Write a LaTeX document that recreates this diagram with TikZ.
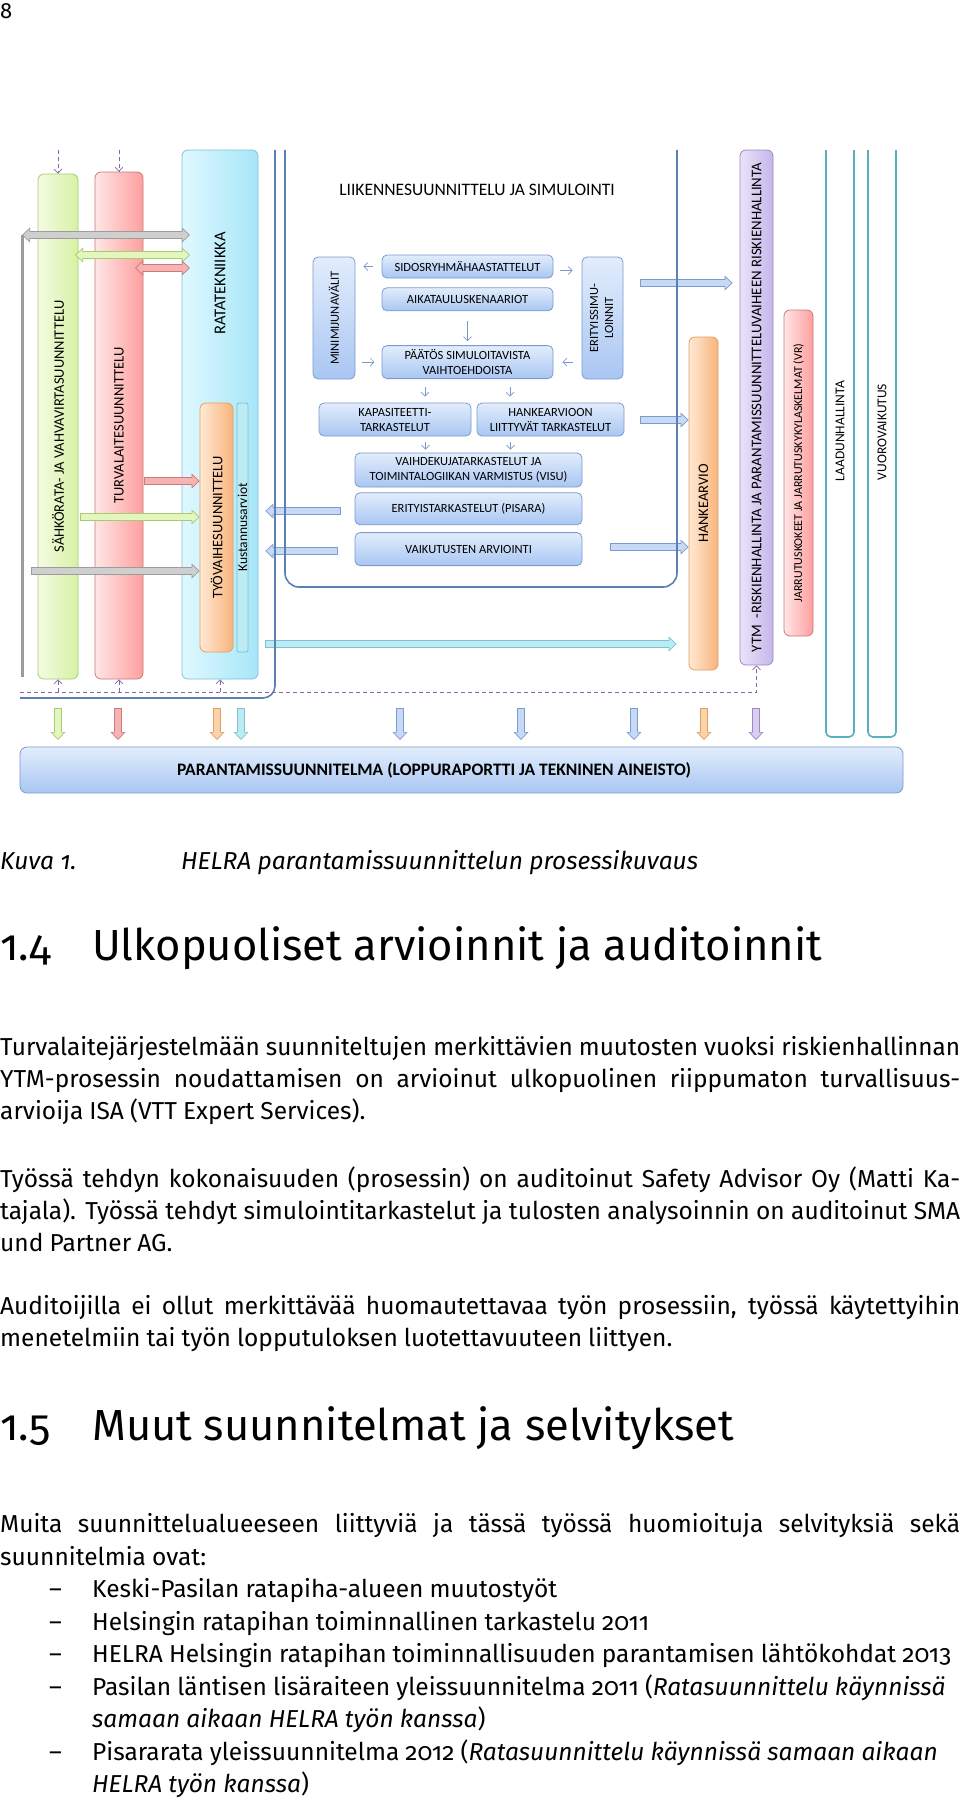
\documentclass[tikz,border=0pt]{standalone}
\usepackage{fontspec}
\usepackage{graphicx}
\setmainfont{Fira Sans}[Numbers=OldStyle]
\newfontfamily\diafont{Carlito}
\usetikzlibrary{arrows.meta,positioning}

\definecolor{boxtop}{HTML}{E2EDFC}
\definecolor{boxbot}{HTML}{A9C6F2}
\definecolor{boxline}{HTML}{7D9AD0}
\definecolor{bluA}{HTML}{C6DAF6}
\definecolor{frameblue}{HTML}{5B80B2}
\definecolor{grnL}{HTML}{F4FBE2}
\definecolor{grnR}{HTML}{D6F2A4}
\definecolor{grnD}{HTML}{A8CC6C}
\definecolor{grnA}{HTML}{E4F6C0}
\definecolor{redL}{HTML}{FFE6E6}
\definecolor{redR}{HTML}{FF9E9E}
\definecolor{redD}{HTML}{C97A7A}
\definecolor{redA}{HTML}{F7B2B2}
\definecolor{cyaL}{HTML}{E0F8FF}
\definecolor{cyaR}{HTML}{A6E6F8}
\definecolor{cyaD}{HTML}{7CC2D4}
\definecolor{cyaA}{HTML}{BDEBF4}
\definecolor{orgL}{HTML}{FFE9D4}
\definecolor{orgR}{HTML}{F8B47C}
\definecolor{orgD}{HTML}{E0A060}
\definecolor{orgA}{HTML}{FCD2AC}
\definecolor{purL}{HTML}{E9E3F8}
\definecolor{purR}{HTML}{C6B6EA}
\definecolor{purD}{HTML}{9A88C4}
\definecolor{purA}{HTML}{D8CEF2}
\definecolor{grayD}{HTML}{9C9C9C}
\definecolor{grayF}{HTML}{CFCFCF}
\definecolor{tealline}{HTML}{5AAFBE}
\definecolor{dashpur}{HTML}{8A64A8}

\newcommand\bodyfont{\fontsize{24.5}{32}\selectfont\spaceskip=.25em plus .6em minus .1em\relax}
\newcommand\headfont{\fontsize{43.5}{48}\selectfont}
\newcommand\barfont{\diafont\fontsize{14.5}{16}\selectfont}
\newsavebox\linebox
\newcommand\jl[1]{\sbox\linebox{#1}\ifdim\wd\linebox>960pt\resizebox{960pt}{\height}{\usebox\linebox}\else\makebox[960pt][s]{#1}\fi}

\tikzset{
  bar/.style={rounded corners=6pt, line width=0.8pt, inner sep=0pt, font=\barfont},
  ibox/.style={draw=boxline, line width=0.8pt, rounded corners=5pt, top color=boxtop, bottom color=boxbot,
    inner sep=0pt, align=center, font=\diafont\fontsize{12.5}{15}\selectfont},
  frame/.style={draw=frameblue, line width=1.6pt},
  sarrow/.style={draw=boxline, line width=0.7pt, -{Straight Barb[length=4pt,width=8pt]}},
  dashline/.style={draw=dashpur, line width=0.7pt, dash pattern=on 4pt off 3pt, -{Straight Barb[length=4pt,width=8pt]}},
  fat/.style 2 args={draw=#2, line width=8pt, -{Triangle[length=8pt,width=15pt,fill=#1,line width=0.7pt]},
    postaction={draw=#1, line width=6.6pt, -, shorten >=7pt, shorten <=0.7pt}},
  fatboth/.style 2 args={draw=#2, line width=8pt,
    {Triangle[length=8pt,width=15pt,fill=#1,line width=0.7pt]}-{Triangle[length=8pt,width=15pt,fill=#1,line width=0.7pt]},
    postaction={draw=#1, line width=6.6pt, -, shorten >=7pt, shorten <=7pt}},
  line/.style={inner sep=0pt, anchor=base west},
}

\begin{document}
\begin{tikzpicture}[x=1pt,y=-1pt]
\path[use as bounding box, fill=white] (0,0) rectangle (960,1800);

% page number
\node[line, font=\fontsize{22}{24}\selectfont] (pg) at (0,18) {8};

% bars on the left
\node[bar, draw=grnD, left color=grnL, right color=grnR, minimum width=40pt, minimum height=505pt] (sahko) at (58,426.5) {\rotatebox{90}{SÄHKÖRATA- JA VAHVAVIRTASUUNNITTELU}};
\node[bar, draw=redD, left color=redL, right color=redR, minimum width=48pt, minimum height=507pt] (turva) at (119,425.5) {\rotatebox{90}{TURVALAITESUUNNITTELU}};
\node[bar, draw=cyaD, left color=cyaL, right color=cyaR, minimum width=76pt, minimum height=529pt] (rata) at (220,414.5) {};
\node[font=\diafont\fontsize{16.5}{18}\selectfont] (ratat) at (220,283.5) {\rotatebox{90}{RATATEKNIIKKA}};
\node[bar, draw=orgD, left color=orgL, right color=orgR, minimum width=33pt, minimum height=249pt] (tyo) at (216.5,527.5) {\rotatebox{90}{TYÖVAIHESUUNNITTELU}};
\node[bar, draw=cyaD, fill=cyaA, rounded corners=2pt, minimum width=11pt, minimum height=249pt] (kust) at (242.5,527.5) {};
\node[font=\diafont\fontsize{13.5}{15}\selectfont] (kustt) at (kust) {\rotatebox{90}{Kustannusarviot}};

% bars on the right
\node[bar, draw=orgD, left color=orgL, right color=orgR, minimum width=29pt, minimum height=333pt] (hanke) at (703.5,503.5) {\rotatebox{90}{HANKEARVIO}};
\node[bar, draw=purD, left color=purL, right color=purR, minimum width=33pt, minimum height=515pt, font=\diafont\fontsize{14.8}{16}\selectfont] (ytm) at (756.5,407.5) {\rotatebox{90}{YTM\ \ -RISKIENHALLINTA JA PARANTAMISSUUNNITTELUVAIHEEN RISKIENHALLINTA}};
\node[bar, draw=redD, left color=redL, right color=redR, minimum width=29pt, minimum height=326pt, font=\diafont\fontsize{12}{14}\selectfont] (jarru) at (798.5,473) {\rotatebox{90}{JARRUTUSKOKEET JA JARRUTUSKYKYLASKELMAT (VR)}};
\draw[draw=tealline, line width=1.6pt, rounded corners=5pt] (826,150) |- (854,737) -- (854,150);
\draw[draw=tealline, line width=1.6pt, rounded corners=5pt] (868,150) |- (896,737) -- (896,150);
\node[font=\diafont\fontsize{13.5}{15}\selectfont] (laatut) at (840,431) {\rotatebox{90}{LAADUNHALLINTA}};
\node[font=\diafont\fontsize{13.5}{15}\selectfont] (vuorot) at (882,432) {\rotatebox{90}{VUOROVAIKUTUS}};

% traffic planning and simulation
\node[font=\diafont\fontsize{17.5}{19}\selectfont] (liike) at (477,190) {LIIKENNESUUNNITTELU JA SIMULOINTI};
\node[ibox, minimum width=171pt, minimum height=23pt] (sidos) at (467.5,266.5) {SIDOSRYHMÄHAASTATTELUT};
\node[ibox, minimum width=171pt, minimum height=23pt, below=9pt of sidos] (aika) {AIKATAULUSKENAARIOT};
\node[ibox, minimum width=171pt, minimum height=33pt, below=34pt of aika] (paatos) {PÄÄTÖS SIMULOITAVISTA\\VAIHTOEHDOISTA};
\node[ibox, minimum width=42pt, minimum height=122pt] (mini) at (334,318) {\rotatebox{90}{MINIMIJUNAVÄLIT}};
\node[ibox, minimum width=41pt, minimum height=122pt] (eritsim) at (602.5,318) {\rotatebox{90}{\begin{tabular}{@{}c@{}}ERITYISSIMU-\\LOINNIT\end{tabular}}};
\node[ibox, minimum width=152pt, minimum height=33pt] (kapa) at (395,419.5) {KAPASITEETTI-\\TARKASTELUT};
\node[ibox, minimum width=147pt, minimum height=33pt] (hankel) at (550.5,419.5) {HANKEARVIOON\\LIITTYVÄT TARKASTELUT};
\node[ibox, minimum width=227pt, minimum height=34pt] (visu) at (468.5,470) {VAIHDEKUJATARKASTELUT JA\\TOIMINTALOGIIKAN VARMISTUS (VISU)};
\node[ibox, minimum width=227pt, minimum height=32pt, below=5pt of visu] (pisara) {ERITYISTARKASTELUT (PISARA)};
\node[ibox, minimum width=227pt, minimum height=33pt, below=7pt of pisara] (vaik) {VAIKUTUSTEN ARVIOINTI};

\draw[sarrow, shorten <=9pt, shorten >=8pt] (sidos.west) -- (sidos.west -| mini.east);
\draw[sarrow, shorten <=7pt, shorten >=9pt] ([yshift=-4pt]sidos.east) -- ([yshift=-4pt]sidos.east -| eritsim.west);
\draw[sarrow, shorten <=7pt, shorten >=7pt] (paatos.west -| mini.east) -- (paatos.west);
\draw[sarrow, shorten <=9pt, shorten >=9pt] (paatos.east -| eritsim.west) -- (paatos.east);
\draw[sarrow, shorten <=10pt, shorten >=4pt] (aika.south) -- (paatos.north);
\draw[sarrow, shorten <=8pt, shorten >=6pt] ([xshift=-42.5pt]paatos.south) -- ([xshift=-42.5pt]paatos.south |- kapa.north);
\draw[sarrow, shorten <=8pt, shorten >=6pt] ([xshift=42.5pt]paatos.south) -- ([xshift=42.5pt]paatos.south |- hankel.north);
\draw[sarrow, shorten <=6pt, shorten >=3pt] ([xshift=-43pt]visu.north |- kapa.south) -- ([xshift=-43pt]visu.north);
\draw[sarrow, shorten <=6pt, shorten >=3pt] ([xshift=42pt]visu.north |- hankel.south) -- ([xshift=42pt]visu.north);

% final report
\node[draw=boxline, line width=0.8pt, rounded corners=7pt, top color=boxtop, bottom color=boxbot, minimum width=883pt, minimum height=46pt] (paran) at (461.5,770) {};
\node[font=\diafont\bfseries\fontsize{17.5}{19}\selectfont] (parant) at (434,770) {PARANTAMISSUUNNITELMA (LOPPURAPORTTI JA TEKNINEN AINEISTO)};

% block arrows
\coordinate (ga) at (22,235);  \coordinate (gb) at (190,235);
\coordinate (na) at (75,255);  \coordinate (nb) at (190,255);
\coordinate (qa) at (135,268); \coordinate (qb) at (190,268);
\coordinate (ra) at (144,481);
\coordinate (la) at (80,517);
\coordinate (ka) at (31,571);
\coordinate (pa) at (341,511);
\coordinate (va) at (338,551);
\coordinate (ea) at (640,283);
\coordinate (ha) at (640,420);
\coordinate (vb) at (610,547);
\coordinate (ta) at (265,644);
\draw[fatboth={grayF}{grayD}] (ga) -- (gb);
\draw[fatboth={grnA}{grnD}] (na) -- (nb);
\draw[fatboth={redA}{redD}] (qa) -- (qb);
\draw[fat={redA}{redD}] (ra) -- (tyo.west |- ra);
\draw[fat={grnA}{grnD}] (la) -- (tyo.west |- la);
\draw[fat={grayF}{grayD}] (ka) -- (tyo.west |- ka);
\draw[fat={bluA}{boxline}] (pa) -- ([xshift=7pt]rata.east |- pa);
\draw[fat={bluA}{boxline}] (va) -- ([xshift=7pt]rata.east |- va);
\draw[fat={bluA}{boxline}] (ea) -- ([xshift=-7pt]ytm.west |- ea);
\draw[fat={bluA}{boxline}] (ha) -- (hanke.west |- ha);
\draw[fat={bluA}{boxline}] (vb) -- (hanke.west |- vb);
\draw[fat={cyaA}{cyaD}] (ta) -- ([xshift=-12pt]hanke.west |- ta);
\foreach \x/\f/\d [count=\i] in {58/grnA/grnD, 118/redA/redD, 217/orgA/orgD, 241/cyaA/cyaD,
    400/bluA/boxline, 521/bluA/boxline, 634/bluA/boxline, 704/orgA/orgD, 756/purA/purD}
{
  \coordinate (d\i) at (\x,708);
  \coordinate (u\i) at (\x,740);
  \draw[fat={\f}{\d}] (d\i) -- (u\i);
}

% frames
\draw[draw=grayD, line width=3pt] (ga) -- (22,677);
\draw[frame, rounded corners=12pt] (20,698) -| (275,150);
\draw[frame, rounded corners=14pt] (285,150) |- (677,587) -- (677,150);

% dashed feedback
\coordinate (dl) at (20,692);
\draw[dashline] (dl) -| (ytm.south);
\draw[dashline] (sahko.south |- dl) -- (sahko.south);
\draw[dashline] (turva.south |- dl) -- (turva.south);
\draw[dashline] (rata.south |- dl) -- (rata.south);
\draw[dashline] (sahko.north |- ytm.north) -- (sahko.north);
\draw[dashline] (turva.north |- ytm.north) -- (turva.north);

% caption and text
\node[line, font=\fontsize{24.5}{32}\selectfont\itshape] (cap) at (0,869) {\makebox[181pt][l]{Kuva 1.}HELRA parantamissuunnittelun prosessikuvaus};
\node[line, font=\headfont] (h14) at (0,960) {\makebox[92pt][l]{1.4}Ulkopuoliset arvioinnit ja auditoinnit};
\node[line, font=\bodyfont] (p1a) at (0,1055) {\jl{Turvalaitejärjestelmään suunniteltujen merkittävien muutosten vuoksi riskienhallinnan}};
\node[line, font=\bodyfont] (p1b) at (0,1087) {\jl{YTM-prosessin noudattamisen on arvioinut ulkopuolinen riippumaton turvallisuus-}};
\node[line, font=\bodyfont] (p1c) at (0,1119) {arvioija ISA (VTT Expert Services).};
\node[line, font=\bodyfont] (p2a) at (0,1187) {\jl{Työssä tehdyn kokonaisuuden (prosessin) on auditoinut Safety Advisor Oy (Matti Ka-}};
\node[line, font=\bodyfont] (p2b) at (0,1219) {\jl{tajala). Työssä tehdyt simulointitarkastelut ja tulosten analysoinnin on auditoinut SMA}};
\node[line, font=\bodyfont] (p2c) at (0,1251) {und Partner AG.};
\node[line, font=\bodyfont] (p3a) at (0,1314) {\jl{Auditoijilla ei ollut merkittävää huomautettavaa työn prosessiin, työssä käytettyihin}};
\node[line, font=\bodyfont] (p3b) at (0,1346) {menetelmiin tai työn lopputuloksen luotettavuuteen liittyen.};
\node[line, font=\headfont] (h15) at (0,1440) {\makebox[92pt][l]{1.5}Muut suunnitelmat ja selvitykset};
\node[line, font=\bodyfont] (p4a) at (0,1532) {\jl{Muita suunnittelualueeseen liittyviä ja tässä työssä huomioituja selvityksiä sekä}};
\node[line, font=\bodyfont] (p4b) at (0,1565) {suunnitelmia ovat:};
\node[line, font=\bodyfont] (i1) at (49,1597) {\makebox[43pt][l]{–}Keski-Pasilan ratapiha-alueen muutostyöt};
\node[line, font=\bodyfont] (i2) at (49,1630) {\makebox[43pt][l]{–}Helsingin ratapihan toiminnallinen tarkastelu 2011};
\node[line, font=\bodyfont] (i3) at (49,1662) {\makebox[43pt][l]{–}HELRA Helsingin ratapihan toiminnallisuuden parantamisen lähtökohdat 2013};
\node[line, font=\bodyfont] (i4) at (49,1695) {\makebox[43pt][l]{–}Pasilan läntisen lisäraiteen yleissuunnitelma 2011 (\textit{Ratasuunnittelu käynnissä}};
\node[line, font=\bodyfont] (i4b) at (92,1727) {\textit{samaan aikaan HELRA työn kanssa})};
\node[line, font=\bodyfont] (i5) at (49,1760) {\makebox[43pt][l]{–}Pisararata yleissuunnitelma 2012 (\textit{Ratasuunnittelu käynnissä samaan aikaan}};
\node[line, font=\bodyfont] (i5b) at (92,1792) {\textit{HELRA työn kanssa})};
\end{tikzpicture}
\end{document}
